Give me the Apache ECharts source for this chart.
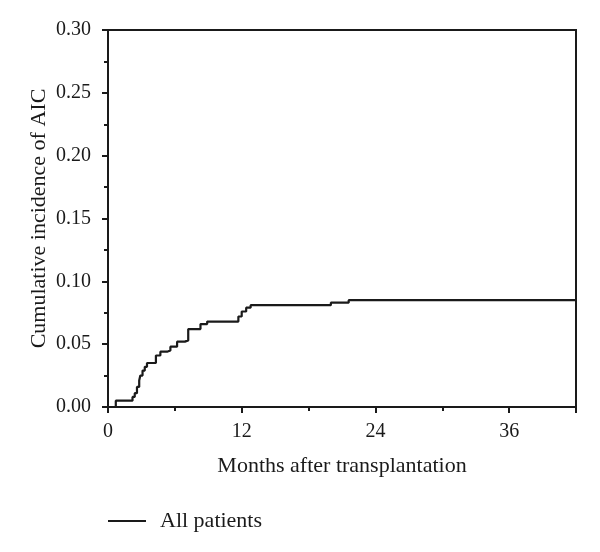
<!DOCTYPE html>
<html>
<head>
<meta charset="utf-8">
<script src="https://cdn.jsdelivr.net/npm/echarts@6/dist/echarts.min.js"></script>
<style>
  html, body { margin: 0; padding: 0; background: #fff; }
  #chart { width: 600px; height: 552px; }
</style>
</head>
<body>
<div id="chart"></div>
<script>
// step points: [month, cumulative incidence]
const months = [0, 0.7, 2.2, 2.4, 2.6, 2.8, 2.9, 3.1, 3.3, 3.5, 4.3, 4.7, 5.3, 5.6, 6.2, 6.9, 7.2, 8.3, 8.9, 11.7, 12.0, 12.4, 12.8, 20.0, 21.6, 42]
const incidence = [0, 0.005, 0.008, 0.011, 0.016, 0.021, 0.025, 0.029, 0.032, 0.035, 0.041, 0.044, 0.045, 0.048, 0.052, 0.053, 0.062, 0.066, 0.068, 0.072, 0.076, 0.079, 0.081, 0.083, 0.085, 0.085]
const xTicks = [0, 12, 24, 36]
const yTicks = [0, 0.05, 0.10, 0.15, 0.20, 0.25, 0.30]

const FONT = '"Liberation Serif", "DejaVu Serif", serif'
const INK = '#1a1a1a'

const chart = echarts.init(document.getElementById('chart'))

chart.setOption({
  animation: false,
  textStyle: { fontFamily: FONT, color: INK },
  grid: {
    left: 108, right: 24, top: 30, bottom: 145,
    show: true, borderColor: INK, borderWidth: 2
  },
  legend: {
    left: 103, top: 505,
    icon: 'rect',
    itemWidth: 38, itemHeight: 2,
    textStyle: { fontFamily: FONT, fontSize: 22, color: INK, padding: [0, 0, 0, 9] },
    data: ['All patients']
  },
  xAxis: {
    type: 'value',
    min: 0, max: 42, interval: 12,
    name: 'Months after transplantation',
    nameLocation: 'middle',
    nameGap: 48,
    nameTextStyle: { fontFamily: FONT, fontSize: 22, color: INK },
    axisLine: { show: true, lineStyle: { color: INK, width: 2 } },
    axisTick: { show: true, inside: false, length: 6, lineStyle: { color: INK, width: 2 } },
    minorTick: { show: true, splitNumber: 2, length: 4, lineStyle: { color: INK, width: 2 } },
    splitLine: { show: false },
    axisLabel: {
      fontFamily: FONT, fontSize: 20, color: INK, margin: 15,
      showMaxLabel: false,
      formatter: v => xTicks.includes(v) ? String(v) : ''
    }
  },
  yAxis: {
    type: 'value',
    min: 0, max: 0.30, interval: 0.05,
    name: 'Cumulative incidence of AIC',
    nameLocation: 'middle',
    nameGap: 58,
    nameMoveOverlap: false,
    nameTextStyle: { fontFamily: FONT, fontSize: 22, color: INK },
    axisLine: { show: true, lineStyle: { color: INK, width: 2 } },
    axisTick: { show: true, inside: false, length: 6, lineStyle: { color: INK, width: 2 } },
    minorTick: { show: true, splitNumber: 2, length: 4, lineStyle: { color: INK, width: 2 } },
    splitLine: { show: false },
    axisLabel: {
      fontFamily: FONT, fontSize: 20, color: INK, margin: 17,
      formatter: v => {
        const t = yTicks.find(k => Math.abs(k - v) < 1e-9)
        return t == null ? '' : t.toFixed(2)
      }
    }
  },
  series: [
    {
      name: 'All patients',
      type: 'line',
      step: 'end',
      symbol: 'none',
      data: months.map((m, i) => [m, incidence[i]]),
      lineStyle: { color: INK, width: 2.2 },
      itemStyle: { color: INK }
    }
  ]
})
</script>
</body>
</html>
